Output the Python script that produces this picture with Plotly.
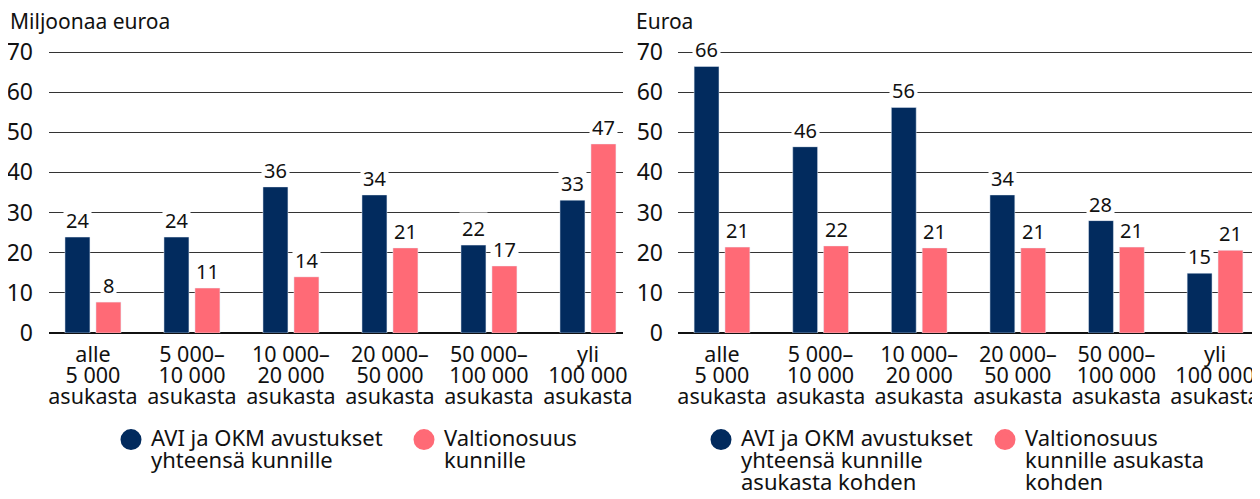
import plotly.graph_objects as go

# ---------------- data ----------------
category_lines = [
    ["alle", "5\u00a0000", "asukasta"],
    ["5\u00a0000–", "10\u00a0000", "asukasta"],
    ["10\u00a0000–", "20\u00a0000", "asukasta"],
    ["20\u00a0000–", "50\u00a0000", "asukasta"],
    ["50\u00a0000–", "100\u00a0000", "asukasta"],
    ["yli", "100\u00a0000", "asukasta"],
]
avi_total = [23.9, 23.9, 36.4, 34.4, 21.9, 33.1]
valtio_total = [7.7, 11.2, 14.0, 21.2, 16.7, 47.1]
avi_per_capita = [66.4, 46.4, 56.2, 34.4, 28.0, 14.9]
valtio_per_capita = [21.4, 21.7, 21.2, 21.2, 21.4, 20.6]

y_ticks = [0, 10, 20, 30, 40, 50, 60, 70]
title_left = "Miljoonaa euroa"
title_right = "Euroa"
legend_left = [["AVI ja OKM avustukset", "yhteensä kunnille"], ["Valtionosuus", "kunnille"]]
legend_right = [["AVI ja OKM avustukset", "yhteensä kunnille", "asukasta kohden"],
                ["Valtionosuus", "kunnille asukasta", "kohden"]]

NAVY = "#022b5e"
PINK = "#ff6a76"
TXT = "#111111"
FONT = "Noto Sans"
W, H = 1260, 499
OFF = 8  # page offset of the figure inside the browser window
BARGAP = 0.374
BARGROUPGAP = 0.194


def big_lines(lines, size):
    # each line in a larger span; line pitch follows the (smaller) base font size
    return "<br>".join(f'<span style="font-size:{size}px">{ln}</span>' for ln in lines)


def sx(p):
    return (p - OFF) / W


def sy(p):
    return 1 - (p - OFF) / H


categories = [" ".join(c) for c in category_lines]
tick_text = [big_lines(c, 21.5) for c in category_lines]

fig = go.Figure()

panels = [
    ("x", "y", avi_total, valtio_total, legend_left, ("legend", "legend2")),
    ("x2", "y2", avi_per_capita, valtio_per_capita, legend_right, ("legend3", "legend4")),
]

for xa, ya, a_vals, v_vals, leg_names, legs in panels:
    fig.add_trace(go.Bar(x=categories, y=a_vals, marker_color=NAVY, xaxis=xa, yaxis=ya,
                         showlegend=False, hoverinfo="skip"))
    fig.add_trace(go.Bar(x=categories, y=v_vals, marker_color=PINK, xaxis=xa, yaxis=ya,
                         showlegend=False, hoverinfo="skip"))
    for name_lines, col, lg in zip(leg_names, [NAVY, PINK], legs):
        fig.add_trace(go.Scatter(x=[None], y=[None], mode="markers",
                                 name=big_lines(name_lines, 22),
                                 marker=dict(symbol="circle", size=16, color=col,
                                             line=dict(color=col, width=5)),
                                 xaxis=xa, yaxis=ya, legend=lg, showlegend=True))
    off = (1 - BARGAP) / 4
    for i, (a, v) in enumerate(zip(a_vals, v_vals)):
        for val, dx in ((a, -off), (v, off)):
            fig.add_annotation(x=i + dx, y=val, xref=xa, yref=ya, text=f"{val:.0f}",
                               showarrow=False, yanchor="bottom", xanchor="center",
                               bgcolor="white", borderpad=2, yshift=0,
                               font=dict(family=FONT, size=20, color=TXT))

ydom = [sy(333), sy(50.4)]
axis_common = dict(
    type="category", showgrid=False, zeroline=False, ticks="", showline=False,
    tickvals=categories, ticktext=tick_text,
    tickfont=dict(family=FONT, size=16, color=TXT), ticklabelstandoff=12,
)
yaxis_common = dict(
    range=[0, 70.4], tickvals=y_ticks, showgrid=True, gridcolor="#333", gridwidth=1,
    zeroline=True, zerolinecolor="#111", zerolinewidth=1.5, ticks="", showline=False,
    tickfont=dict(family=FONT, size=23, color=TXT), domain=ydom,
)

fig.update_layout(
    width=W, height=H, margin=dict(l=0, r=0, t=0, b=0, autoexpand=False),
    paper_bgcolor="white", plot_bgcolor="white",
    barmode="group", bargap=BARGAP, bargroupgap=BARGROUPGAP,
    font=dict(family=FONT, color=TXT),
    xaxis=dict(axis_common, domain=[sx(49), sx(623)], range=[-0.444, 5.354], anchor="y"),
    yaxis=dict(yaxis_common, anchor="x", ticklabelstandoff=15),
    xaxis2=dict(axis_common, domain=[sx(678), sx(1260)], range=[-0.446, 5.456], anchor="y2"),
    yaxis2=dict(yaxis_common, anchor="x2", ticklabelstandoff=14),
)

leg_common = dict(bgcolor="rgba(0,0,0,0)", font=dict(family=FONT, size=17, color=TXT),
                  xanchor="left", yanchor="top", valign="top", itemwidth=30,
                  orientation="v", tracegroupgap=0)
fig.update_layout(
    legend=dict(leg_common, x=sx(111), y=sy(422)),
    legend2=dict(leg_common, x=sx(404), y=sy(422)),
    legend3=dict(leg_common, x=sx(701), y=sy(422)),
    legend4=dict(leg_common, x=sx(985), y=sy(422)),
)

fig.add_annotation(x=sx(8), y=sy(5), xref="paper", yref="paper", text=title_left,
                   showarrow=False, xanchor="left", yanchor="top",
                   font=dict(family=FONT, size=21, color=TXT))
fig.add_annotation(x=sx(634), y=sy(5), xref="paper", yref="paper", text=title_right,
                   showarrow=False, xanchor="left", yanchor="top",
                   font=dict(family=FONT, size=21, color=TXT))

fig.write_html("out.html")
